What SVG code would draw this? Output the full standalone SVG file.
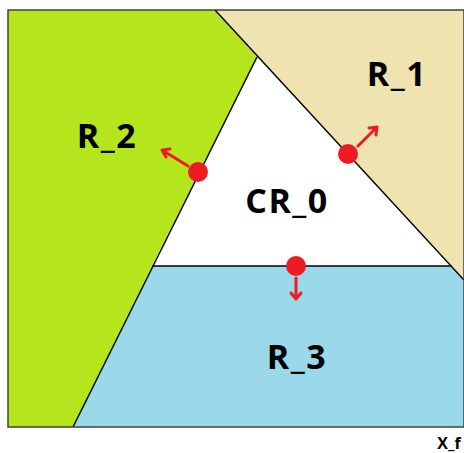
<svg xmlns="http://www.w3.org/2000/svg" width="464" height="453" viewBox="0 0 464 453">
<defs>
<style>
.lbl{font-family:"Open Sans","Liberation Sans",sans-serif;font-weight:bold;fill:#000;text-anchor:middle;font-size:34px;letter-spacing:1.5px}
.sm{font-family:"Open Sans","Liberation Sans",sans-serif;font-weight:bold;fill:#000;text-anchor:middle;font-size:16px}
.edge{stroke:#000;stroke-width:1.5;fill:none}
.arr{stroke:#ed1c24;stroke-width:3;fill:none;stroke-linecap:round;stroke-linejoin:round}
.dot{fill:#ed1c24}
</style>
</defs>
<rect width="464" height="453" fill="#fff"/>
<g id="R_2"><polygon points="8,10 215,10 257,57 152,266 73,427 8,427" fill="#b5e61d"/><text class="lbl" x="107" y="148">R_2</text></g>
<g id="R_1"><polygon points="215,10 464,10 464,280 452,266 257,57" fill="#efe4b0"/><text class="lbl" x="397" y="86">R_1</text></g>
<g id="CR_0"><polygon points="257,57 452,266 152,266" fill="#fff"/><text class="lbl" x="287" y="213">CR_0</text></g>
<g id="R_3"><polygon points="152,266 452,266 464,280 464,427 73,427" fill="#99d9ea"/><text class="lbl" x="297" y="369">R_3</text></g>
<g id="connectors">
<line class="edge" x1="215" y1="10" x2="464" y2="280"/>
<line class="edge" x1="257" y1="57" x2="73" y2="427"/>
<line class="edge" x1="152" y1="266" x2="452" y2="266"/>
<path class="arr" d="M188,166 L162,150 M162,150 L170,149 M162,150 L166,157"/>
<path class="arr" d="M358,146 L377,127 M377,127 L369,128 M377,127 L376,135"/>
<path class="arr" d="M296,278 L296,299 M296,299 L291,293 M296,299 L301,293"/>
<circle class="dot" cx="198" cy="172" r="10"/>
<circle class="dot" cx="348" cy="154" r="10"/>
<circle class="dot" cx="296" cy="266" r="10"/>
</g>
<rect x="8" y="10" width="456" height="417" fill="none" stroke="#404040" stroke-width="1.5"/>
<text class="sm" x="449" y="449">X_f</text>
</svg>
